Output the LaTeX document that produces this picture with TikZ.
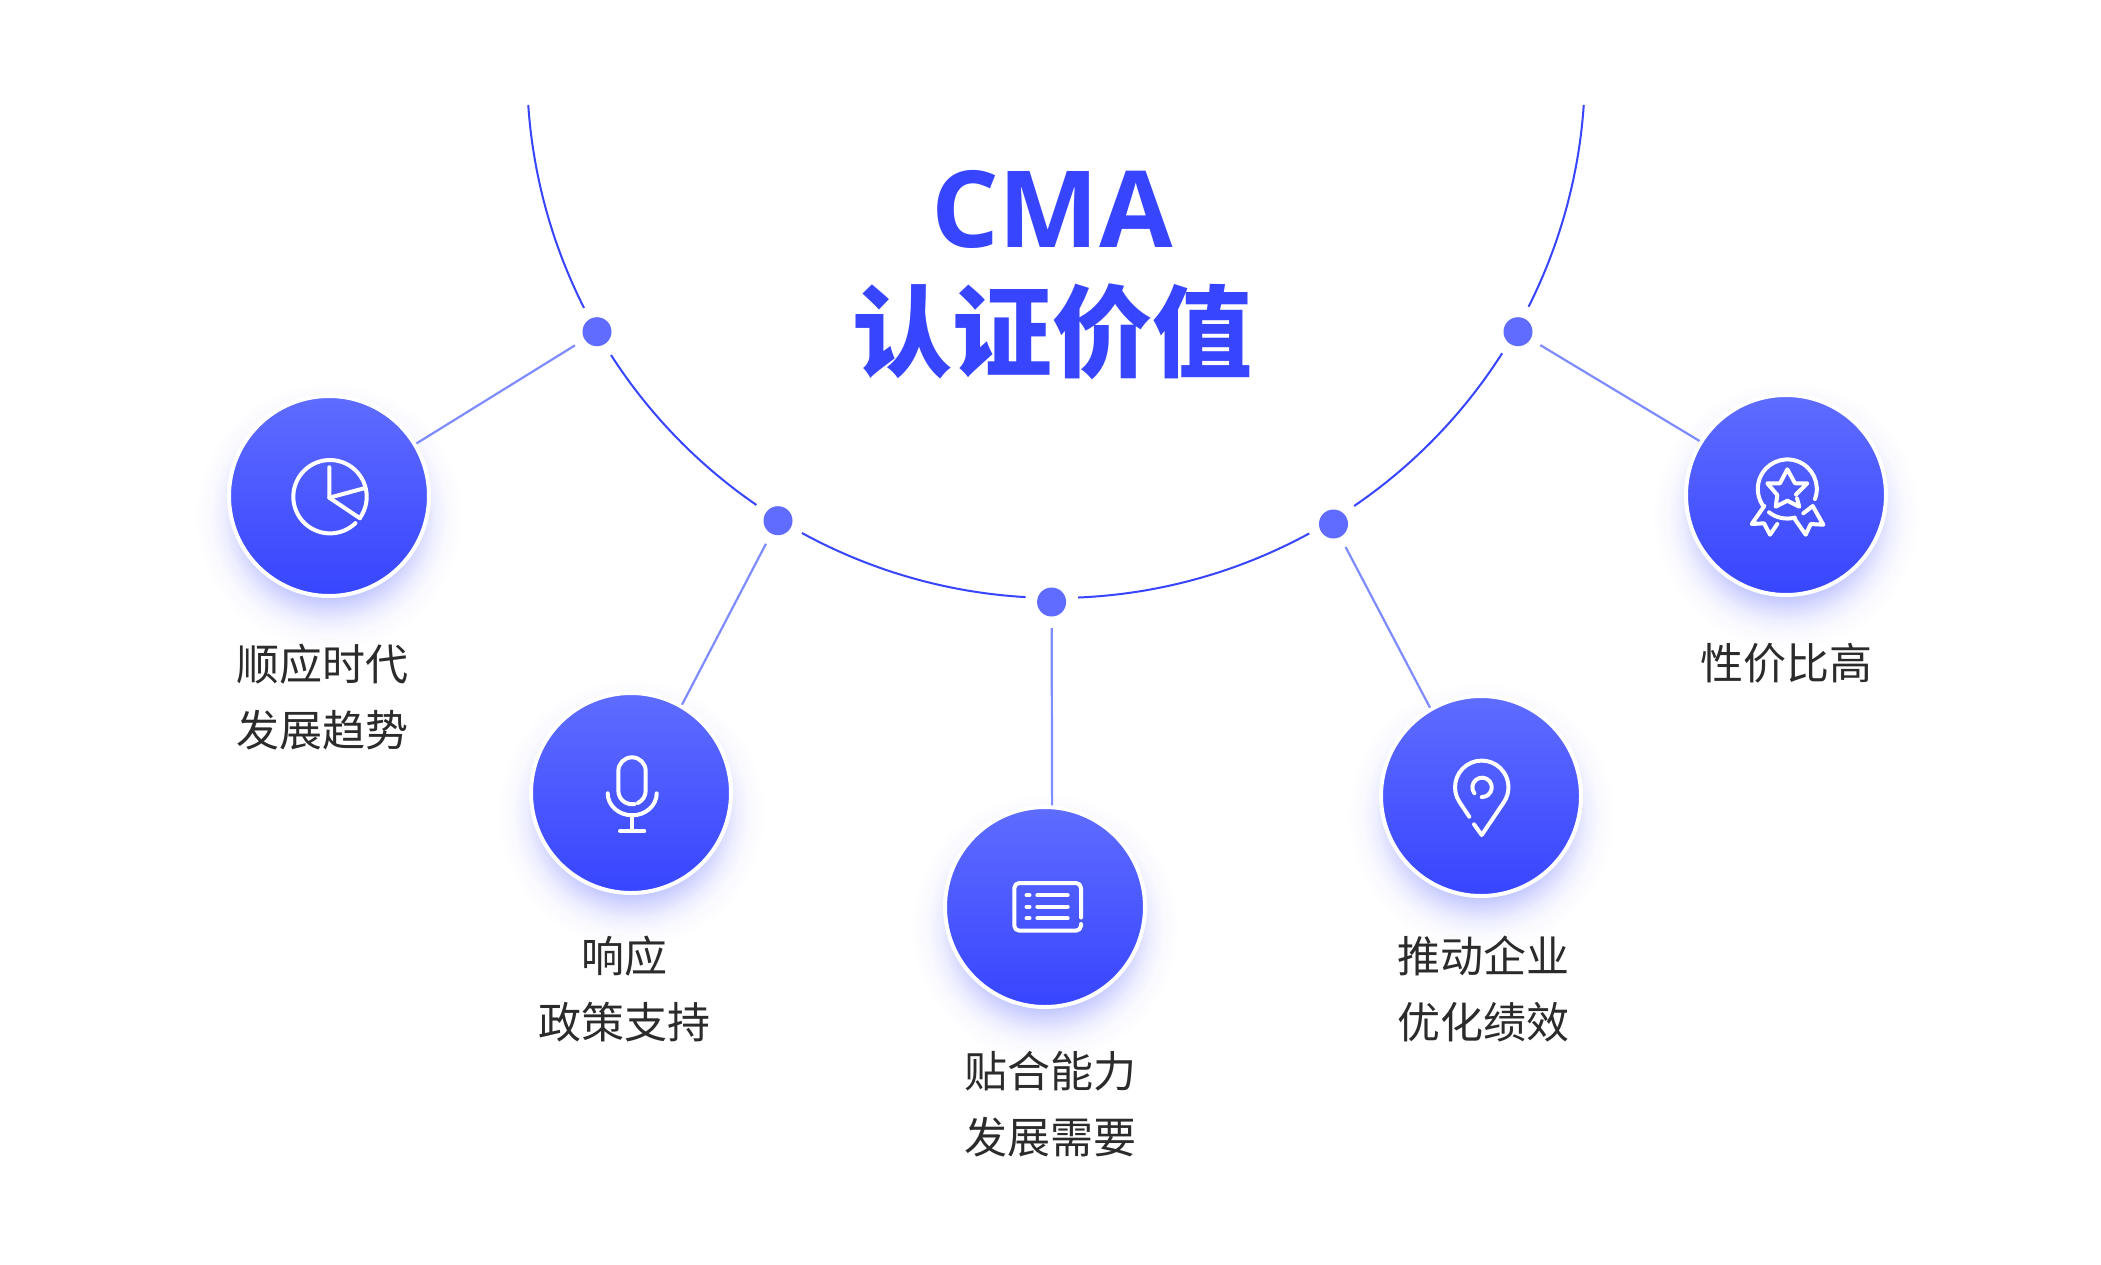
\documentclass[tikz,border=0pt]{standalone}
\usepackage{fontspec}
\setmainfont{Open Sans}
\newfontfamily\cjk{Noto Sans CJK SC}
\newfontfamily\latinb{Open Sans}
\definecolor{deepblue}{HTML}{3745FF}
\definecolor{lightblue}{HTML}{5F6CFF}
\definecolor{linkblue}{HTML}{7F8CFF}
\definecolor{inkgrey}{HTML}{2B2B2B}
\pgfdeclareradialshading{softsh}{\pgfpoint{0bp}{0bp}}{%
 rgb(0bp)=(0.76,0.78,1);rgb(15bp)=(0.76,0.78,1);rgb(17bp)=(0.84,0.85,1);rgb(19.5bp)=(0.93,0.935,1);rgb(22bp)=(0.98,0.98,1);rgb(25bp)=(1,1,1);rgb(50bp)=(1,1,1)}
\tikzset{
  bubble/.style={circle,minimum size=200pt,inner sep=0pt,draw=white,line width=4pt,top color=lightblue,bottom color=deepblue,shading angle=0},
  knot/.style={circle,minimum size=29pt,inner sep=0pt,outer sep=0pt,fill=lightblue},
  link/.style={draw=linkblue,line width=2.2pt,shorten <=11.5pt},
  rim/.style={draw=deepblue,line width=2pt,samples=40},
  glyph/.style={draw=white,line width=4pt,line cap=round,line join=round},
  caption/.style={font=\cjk\fontsize{43pt}{66.7pt}\selectfont,text=inkgrey,align=center,inner sep=0pt},
  halo/.style={shading=softsh}
}
\begin{document}
\begin{tikzpicture}[x=1pt,y=-1pt]
\useasboundingbox (0,0) rectangle (2101,1264);
\fill[white] (0,0) rectangle (2101,1264);
% shadows
\foreach \px/\py in {329/496,631/793,1045/907,1481/796,1786/495}
  \shade[halo] (\px,\py+20) circle[radius=135pt];
% rim
\foreach \a/\b in {176.1/153.15,147.27/124.5,118.7/93.3,87.6/61.4,55.7/32.5,26.7/3.9}
  \draw[rim] plot[domain=\a:\b] ({1056+529*cos(\x)},{69+529*sin(\x)});
% nodes
\node[bubble] (c1) at (329,496) {};
\node[bubble] (c2) at (631,793) {};
\node[bubble] (c3) at (1045,907) {};
\node[bubble] (c4) at (1481,796) {};
\node[bubble] (c5) at (1786,495) {};
\node[knot] (d1) at (597,331.7) {};
\node[knot] (d2) at (778,520.7) {};
\node[knot] (d3) at (1051.6,602) {};
\node[knot] (d4) at (1333.5,524) {};
\node[knot] (d5) at (1518,331.7) {};
% connectors
\draw[link] (d1) -- (c1.31.8);
\draw[link] (d2) -- (c2.60.3);
\draw[link] (d3) -- (c3.86.7);
\draw[link] (d4) -- (c4.120.2);
\draw[link] (d5) -- (c5.148.8);
% title
\node[anchor=base,inner sep=0pt,text=deepblue,font=\latinb\bfseries\fontsize{106.5pt}{106.5pt}\selectfont] (title1) at (1052,247.7) {CMA};
\node[anchor=base,inner sep=0pt,text=deepblue,font=\cjk\bfseries\fontsize{100pt}{100pt}\selectfont] (title2) at (1052.5,369) {认证价值};
% captions
\node[caption] (t1) at (322.5,697) {顺应时代\\发展趋势};
\node[caption] (t2) at (624,989) {响应\\政策支持};
\node[caption] (t3) at (1050,1104) {贴合能力\\发展需要};
\node[caption] (t4) at (1483,989) {推动企业\\优化绩效};
\node[caption] (t5) at (1786,663) {性价比高};
% icon 1
\draw[glyph] plot[domain=46:395,samples=60] ({330+36.7*cos(\x)},{496.7+36.7*sin(\x)});
\draw[glyph] (329.3,467.3) -- (329.3,497.7) -- (360,518.3);
\draw[glyph] (329.3,497.7) -- (364,488.3);
% icon 2
\draw[glyph] (637.8,803) arc[start angle=-65,end angle=0,radius=13.7pt] -- (645.7,771) arc[start angle=0,end angle=180,radius=13.7pt] -- (618.3,790.6) arc[start angle=180,end angle=280,radius=13.7pt];
\draw[glyph] (607.7,793.3) arc[start angle=180,end angle=360,x radius=24.5pt,y radius=22pt];
\draw[glyph] (632,815) -- (632,830);
\draw[glyph] (620,831) -- (644.3,831);
% icon 3
\draw[glyph] (1081,917.5) -- (1081,888) arc[start angle=0,end angle=90,radius=5pt] -- (1019.3,883) arc[start angle=90,end angle=180,radius=5pt] -- (1014.3,925.7) arc[start angle=180,end angle=270,radius=5pt] -- (1076,930.7) arc[start angle=270,end angle=360,radius=5pt] -- (1081,924);
\foreach \ry in {895.3,906.7,918.3}{
  \draw[glyph] (1026.5,\ry) -- (1029.5,\ry);
  \draw[glyph] (1037.3,\ry) -- (1067.7,\ry);
}
% icon 4
\draw[glyph] (1469.3,816.7) -- (1459.6,802.2) arc[start angle=214,end angle=-34,radius=26.7pt] -- (1481.7,835) -- (1474,824.3);
\draw[glyph] (1474.4,793.3) arc[start angle=218,end angle=-92,radius=9.7pt];
% icon 5
\draw[glyph] (1815,499) arc[start angle=-20,end angle=217,radius=29.5pt];
\draw[glyph] (1769,512.3) arc[start angle=232,end angle=285,radius=29.5pt];
\draw[glyph] (1797,498.5) -- (1799.3,506.7) -- (1787.3,500.7) -- (1775.7,506.7) -- (1777.3,495) -- (1767.3,483.3) -- (1780,483.3) -- (1787.3,469.3) -- (1795,483.3) -- (1807.3,483.3) -- (1796,494.5);
\draw[glyph] (1764.3,506) -- (1751.7,524) -- (1764,523.3) -- (1770,534.7) -- (1777.3,524);
\draw[glyph] (1794.3,518.3) -- (1805.7,534.7) -- (1810.7,524) -- (1823.3,524.7) -- (1812.7,506) -- (1803.3,513.3);
\end{tikzpicture}
\end{document}
